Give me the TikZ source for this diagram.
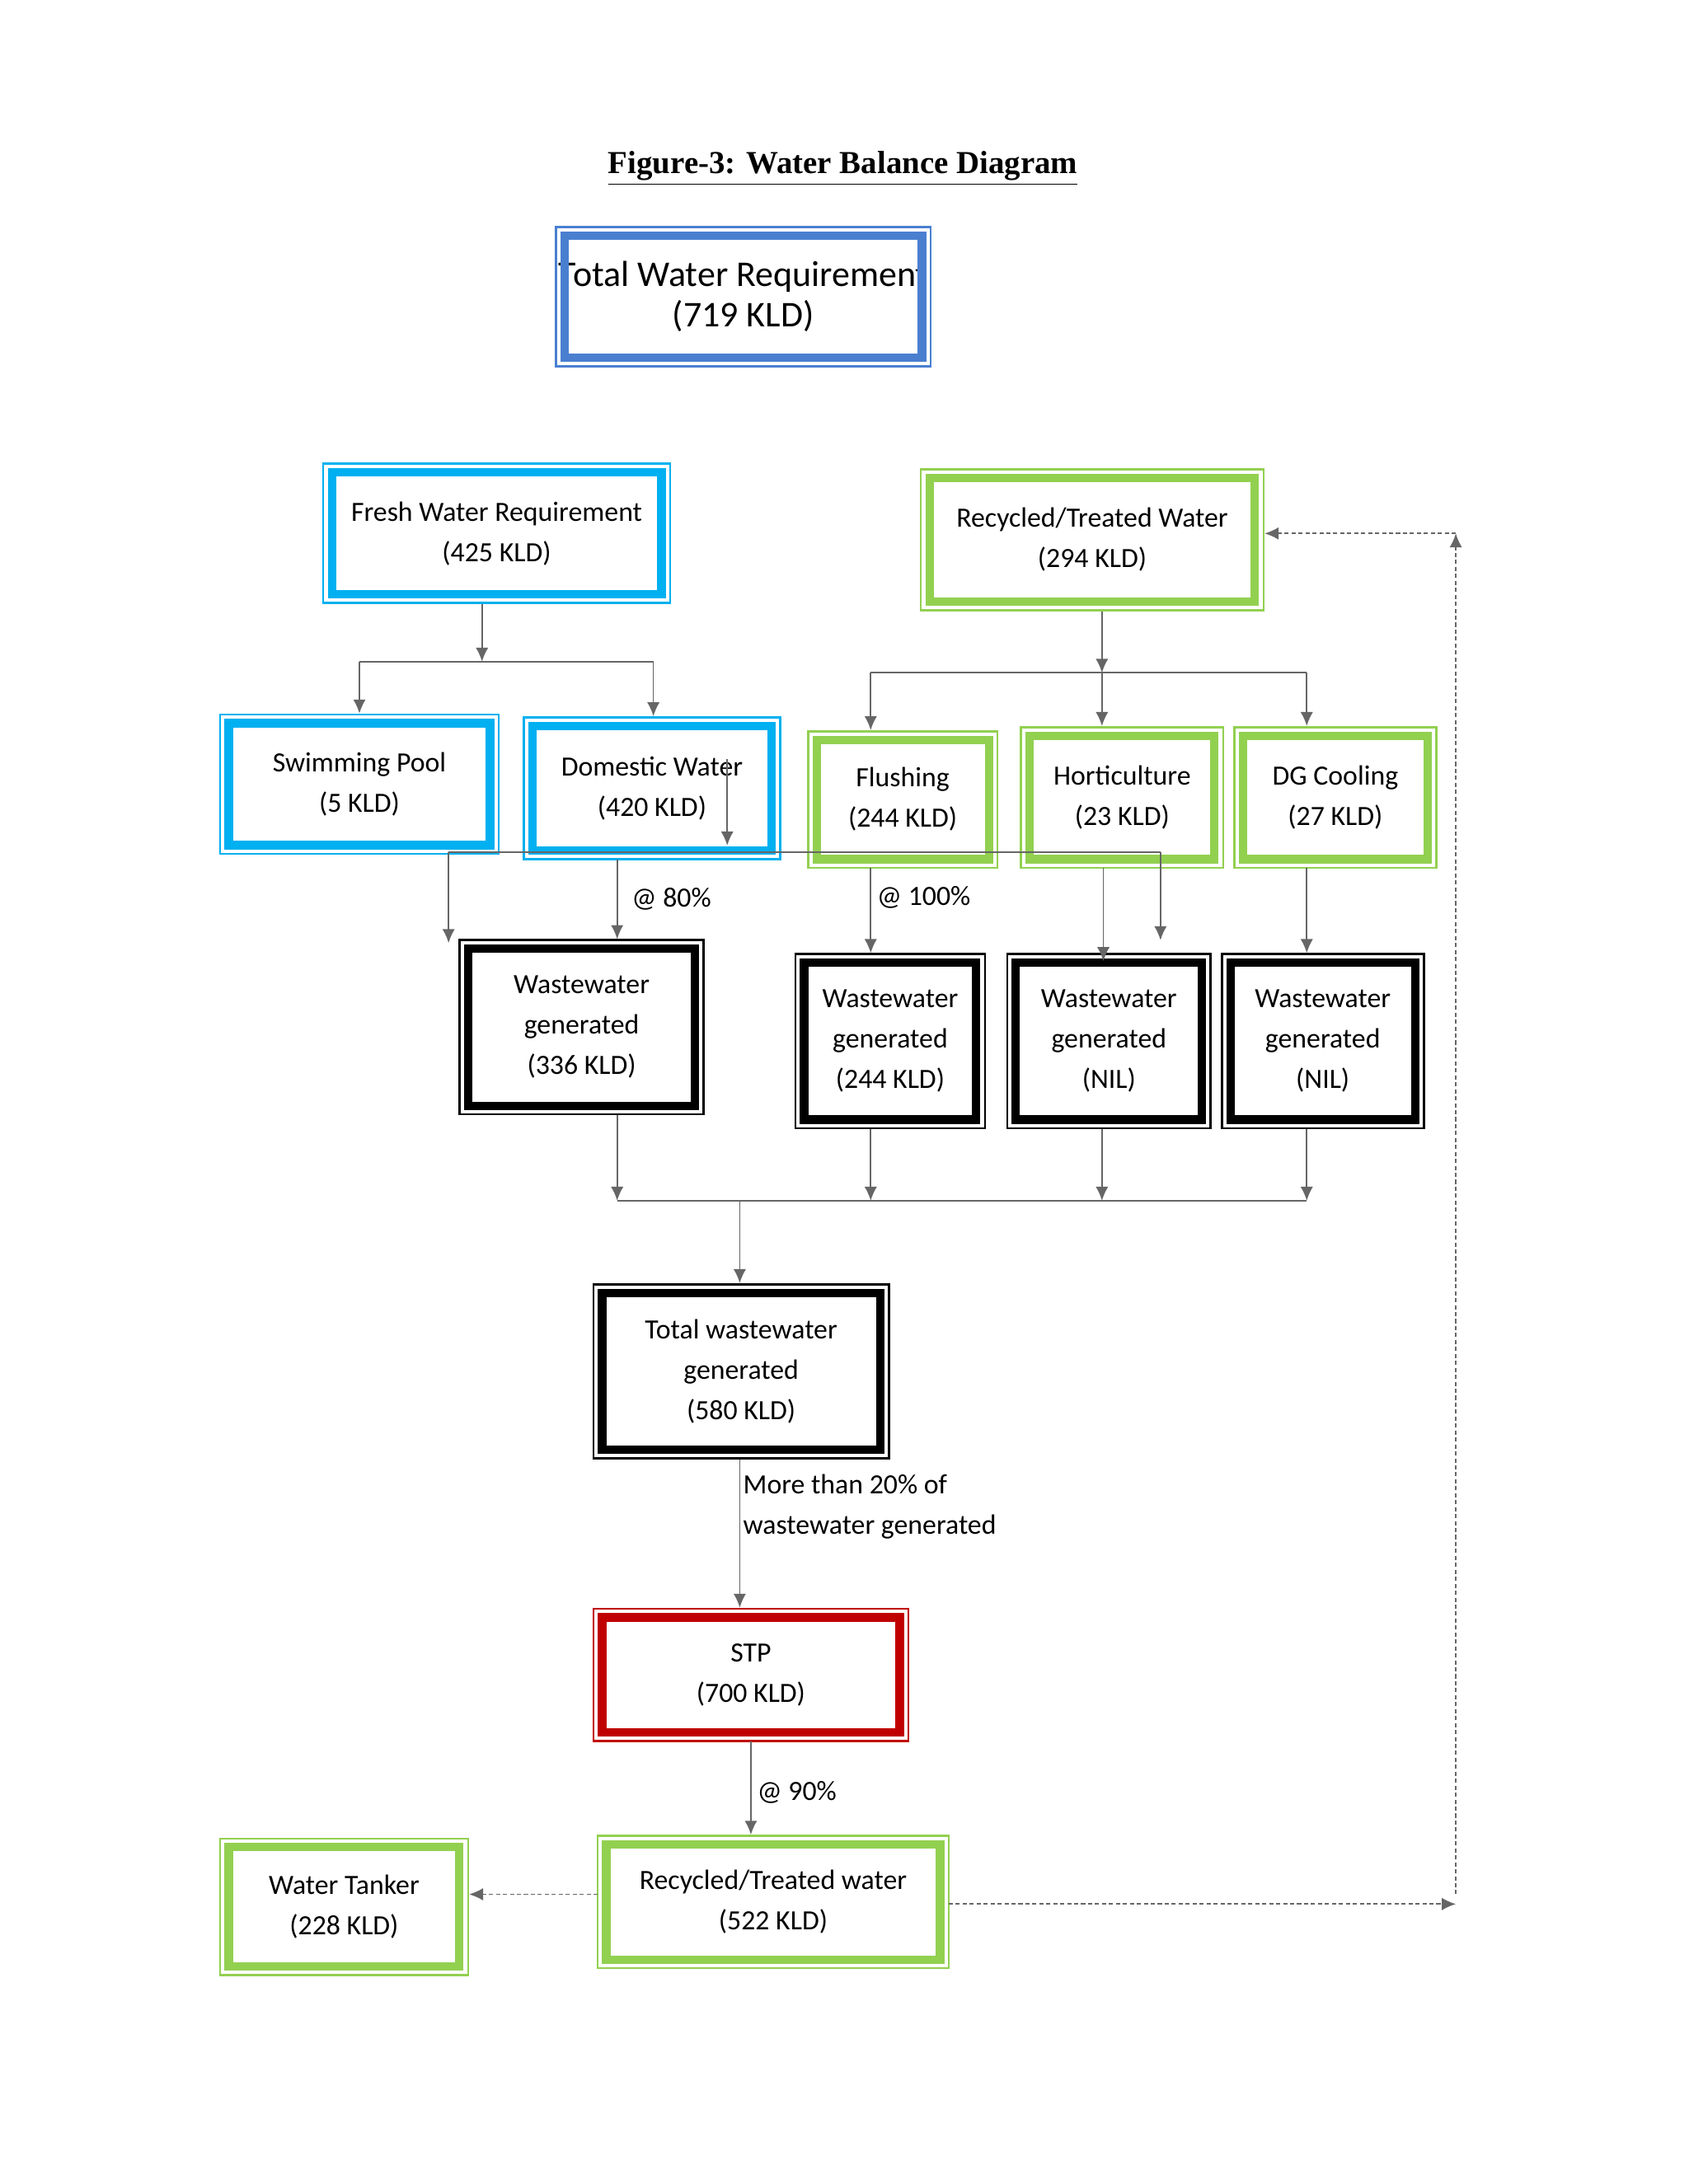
\documentclass[tikz,border=0pt]{standalone}
\usepackage{fontspec}
\setmainfont{Carlito}
\newfontfamily\titlefont{Liberation Serif}
\usetikzlibrary{arrows.meta}
\definecolor{cblue}{HTML}{4A7FD0}
\definecolor{ccyan}{HTML}{00B0F0}
\definecolor{cgreen}{HTML}{92D050}
\definecolor{cred}{HTML}{C00000}
\newcommand\bx[7]{%
\node[draw=#6,line width=0.8pt,inner sep=0pt,align=center,font=\fontsize{10}{14.5}\selectfont,
 minimum width={(#4-#2)*0.5pt},minimum height={(#5-#3)*0.5pt}] (#1) at ({(#2+#4)/2},{(#3+#5)/2}) {#7};
\draw[#6,line width=3pt] ([shift={(7,7)}]#1.north west) rectangle ([shift={(-7,-7)}]#1.south east);}
\tikzset{
 con/.style={draw=gray!80!black,line width=0.5pt},
 arr/.style={con,-{Latex[length=5pt,width=4.5pt]},shorten >=0pt},
 dasharr/.style={arr,dash pattern=on 1.5pt off 1pt},
 lbl/.style={font=\fontsize{10}{14.5}\selectfont,align=left,inner sep=1pt}
}
\begin{document}
\begin{tikzpicture}[x=0.5pt,y=-0.5pt]
\useasboundingbox[fill=white] (0,0) rectangle (1212,1568);
\node[font=\titlefont\bfseries\fontsize{11.5}{13}\selectfont] (title) at (605,121) {\underline{Figure-3: Water Balance Diagram}};
\bx{total}{399}{163}{668}{263}{cblue}{\fontsize{13}{18}\selectfont Total Water Requirement\\\fontsize{13}{18}\selectfont(719 KLD)}
\bx{fresh}{232}{333}{481}{433}{ccyan}{Fresh Water Requirement\\(425 KLD)}
\bx{rec}{661}{337}{907}{438}{cgreen}{Recycled/Treated Water\\(294 KLD)}
\bx{swim}{158}{513}{358}{613}{ccyan}{Swimming Pool\\(5 KLD)}
\bx{dom}{376}{515}{560}{617}{ccyan}{Domestic Water\\(420 KLD)}
\bx{flush}{580}{525}{716}{623}{cgreen}{Flushing\\(244 KLD)}
\bx{hort}{733}{522}{878}{623}{cgreen}{Horticulture\\(23 KLD)}
\bx{dg}{886}{522}{1031}{623}{cgreen}{DG Cooling\\(27 KLD)}
\bx{wa}{330}{675}{505}{800}{black}{Wastewater\\generated\\(336 KLD)}
\bx{wb}{571}{685}{707}{810}{black}{Wastewater\\generated\\(244 KLD)}
\bx{wc}{723}{685}{869}{810}{black}{Wastewater\\generated\\(NIL)}
\bx{wd}{877}{685}{1022}{810}{black}{Wastewater\\generated\\(NIL)}
\bx{tw}{426}{922}{638}{1047}{black}{Total wastewater\\generated\\(580 KLD)}
\bx{stp}{426}{1155}{652}{1250}{cred}{STP\\(700 KLD)}
\bx{rb}{429}{1318}{681}{1413}{cgreen}{Recycled/Treated water\\(522 KLD)}
\bx{tank}{158}{1320}{336}{1418}{cgreen}{Water Tanker\\(228 KLD)}
% fresh split
\coordinate (f1) at (346,475); \coordinate (f2) at (258,475); \coordinate (f3) at (469,475);
\draw[arr] (fresh.south -| f1) -- (f1);
\draw[con] (f2) -- (f3);
\draw[arr] (f2) -- (swim.north -| f2);
\draw[arr] (f3) -- (dom.north -| f3);
% recycled split
\coordinate (r1) at (791,483); \coordinate (r2) at (625,483); \coordinate (r3) at (938,483);
\draw[arr] (rec.south -| r1) -- (r1);
\draw[con] (r2) -- (r3);
\draw[arr] (r2) -- (flush.north -| r2);
\draw[arr] (r1) -- (hort.north -| r1);
\draw[arr] (r3) -- (dg.north -| r3);
% stray lines
\coordinate (s0) at (522,545); \coordinate (s1) at (522,607);
\coordinate (s2) at (322,612); \coordinate (s3) at (833,612);
\coordinate (s4) at (322,677); \coordinate (s5) at (833,675);
\draw[arr] (s0) -- (s1);
\draw[con] (s2) -- (s3);
\draw[arr] (s2) -- (s4);
\draw[arr] (s3) -- (s5);
% to wastewater
\coordinate (d1) at (443,617);
\draw[arr] (d1) -- (wa.north -| d1) node[lbl,pos=0.5,right=4pt] {@ 80\%};
\coordinate (d2) at (625,623);
\draw[arr] (d2) -- (wb.north -| d2) node[lbl,pos=0.35,right=1pt] {@ 100\%};
\coordinate (d3) at (792,623);
\draw[arr] (d3) -- (792,690);
\coordinate (d4) at (938,623);
\draw[arr] (d4) -- (wd.north -| d4);
% collection
\coordinate (c1) at (443,862); \coordinate (c2) at (625,862); \coordinate (c3) at (791,862); \coordinate (c4) at (938,862); \coordinate (c0) at (531,862);
\draw[arr] (wa.south -| c1) -- (c1);
\draw[arr] (wb.south -| c2) -- (c2);
\draw[arr] (wc.south -| c3) -- (c3);
\draw[arr] (wd.south -| c4) -- (c4);
\draw[con] (c1) -- (c4);
\draw[arr] (c0) -- (tw.north -| c0);
\draw[arr] (tw.south -| c0) -- (stp.north -| c0) node[lbl,pos=0.32,right=0pt] {More than 20\% of\\wastewater generated};
\coordinate (p1) at (539,1250);
\draw[arr] (p1) -- (rb.north -| p1) node[lbl,pos=0.55,right=1pt] {@ 90\%};
% dashed
\coordinate (t1) at (429,1360);
\draw[dasharr] (t1) -- (tank.east |- t1);
\coordinate (e1) at (681,1367); \coordinate (e2) at (1045,1367); \coordinate (e3) at (1045,1360); \coordinate (e4) at (1045,383); \coordinate (e5) at (907,383);
\draw[dasharr] (e1) -- (e2);
\draw[dasharr] (e3) -- (e4);
\draw[dasharr] (e4) -- (rec.east |- e5);
\end{tikzpicture}
\end{document}
